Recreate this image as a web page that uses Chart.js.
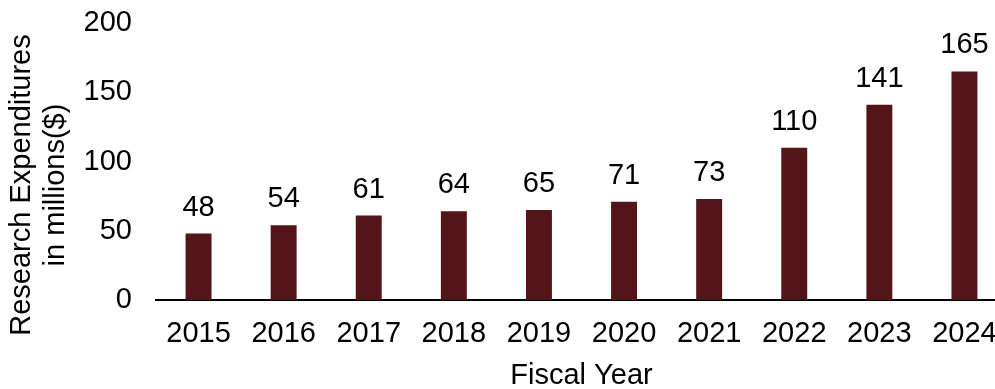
<!DOCTYPE html>
<html>
<head>
<meta charset="utf-8">
<script src="https://cdn.jsdelivr.net/npm/chart.js@4"></script>
<style>
  html, body { margin: 0; padding: 0; background: #fff; overflow: hidden; }
  #wrap { position: relative; width: 995px; height: 389px; overflow: hidden; }
  canvas { position: absolute; left: 0; top: 0; }
</style>
</head>
<body>
<div id="wrap"><canvas id="chart" width="1010" height="389"></canvas></div>
<script>
// Research expenditures by fiscal year (millions of dollars)
const fiscalYears = ['2015', '2016', '2017', '2018', '2019', '2020', '2021', '2022', '2023', '2024'];
const expenditures = [48, 54, 61, 64, 65, 71, 73, 110, 141, 165];
const yTicks = [0, 50, 100, 150, 200];
const yTitleLines = ['Research Expenditures', 'in millions($)'];
const xTitle = 'Fiscal Year';

const FONT = "'Liberation Sans', Arial, sans-serif";
const SIZE = 29;
const BAR = '#531519';

// value labels above each bar
const valueLabels = {
  id: 'valueLabels',
  afterDatasetsDraw(chart) {
    const ctx = chart.ctx;
    const meta = chart.getDatasetMeta(0);
    ctx.save();
    ctx.font = SIZE + 'px ' + FONT;
    ctx.fillStyle = '#000';
    ctx.textAlign = 'center';
    ctx.textBaseline = 'alphabetic';
    meta.data.forEach((bar, i) => {
      ctx.fillText(String(expenditures[i]), bar.x, bar.y - 18);
    });
    ctx.restore();
  }
};

// two-line rotated y-axis title
const yTitle = {
  id: 'yTitle',
  afterDraw(chart) {
    const ctx = chart.ctx;
    ctx.save();
    ctx.font = SIZE + 'px ' + FONT;
    ctx.fillStyle = '#000';
    ctx.textAlign = 'center';
    ctx.textBaseline = 'middle';
    ctx.translate(22, 185);
    ctx.rotate(-Math.PI / 2);
    yTitleLines.forEach((line, i) => ctx.fillText(line, 0, i * 34));
    ctx.restore();
  }
};

new Chart(document.getElementById('chart'), {
  type: 'bar',
  data: {
    labels: fiscalYears,
    datasets: [{
      data: expenditures,
      backgroundColor: BAR,
      borderWidth: 0,
      barPercentage: 0.305,
      categoryPercentage: 1
    }]
  },
  options: {
    responsive: false,
    animation: false,
    devicePixelRatio: 1,
    layout: { padding: { top: 23, right: 3, left: 0, bottom: 0 } },
    plugins: { legend: { display: false }, tooltip: { enabled: false } },
    scales: {
      x: {
        grid: { display: false, drawTicks: false },
        border: { display: true, color: '#000', width: 2 },
        ticks: { color: '#000', font: { family: FONT, size: SIZE }, padding: 17, maxRotation: 0, autoSkip: false },
        title: { display: true, text: xTitle, color: '#000', font: { family: FONT, size: SIZE }, padding: { top: 8, bottom: -4 } },
        afterFit(scale) { scale.height = 89; scale.paddingLeft = 0; scale.paddingRight = 0; }
      },
      y: {
        min: 0,
        max: 200,
        grid: { display: false, drawTicks: false },
        border: { display: false },
        afterBuildTicks(scale) { scale.ticks = yTicks.map(v => ({ value: v })); },
        ticks: { color: '#000', font: { family: FONT, size: SIZE }, padding: 24 },
        afterFit(scale) { scale.width = 156; scale.paddingTop = 0; scale.paddingBottom = 0; }
      }
    }
  },
  plugins: [valueLabels, yTitle]
});
</script>
</body>
</html>
